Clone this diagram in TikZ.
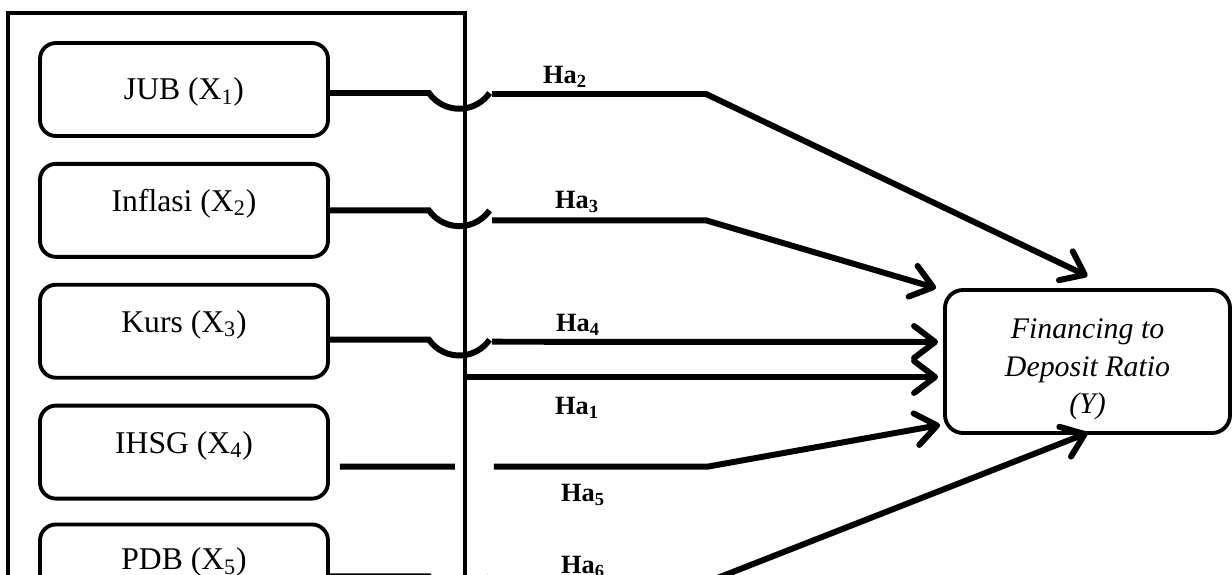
\documentclass[tikz,border=0pt]{standalone}
\usepackage{fontspec}
\setmainfont{Liberation Serif}
\usepackage{tikz}
\usetikzlibrary{arrows.meta,positioning,calc}

\tikzset{
    varbox/.style={draw, line width=2.2pt, rounded corners=0.32cm,
        minimum width=5.76cm, minimum height=1.86cm,
        font=\fontsize{18}{21}\selectfont, text height=0.5cm, text depth=0.46cm},
    hypo/.style={font=\fontsize{15}{17}\selectfont\bfseries},
    link/.style={line width=3.4pt},
}

\begin{document}
\begin{tikzpicture}[>={Straight Barb[round, length=0.42cm, width=0.64cm]}]
        \useasboundingbox (0, 0) rectangle (24.64, 11.48);
        \clip (0, 0) rectangle (24.64, 11.48);

        % Frame round the independent variables
        \draw[line width=1.8pt] (0.16, -1) |- (9.30, 11.22) -- (9.30, -1);
        \coordinate (frameE) at (9.30, 3.94);

        % Independent variables
        \node[varbox, text depth=0.08cm] (jub) at (3.68, 9.69) {JUB (X\textsubscript{1})};
        \node[varbox, below=0.48cm of jub] (inflasi) {Inflasi (X\textsubscript{2})};
        \node[varbox, below=0.48cm of inflasi] (kurs) {Kurs (X\textsubscript{3})};
        \node[varbox, below=0.48cm of kurs] (ihsg) {IHSG (X\textsubscript{4})};
        \node[varbox, below=0.44cm of ihsg, text depth=0.56cm] (pdb) {PDB (X\textsubscript{5})};

        % Dependent variable
        \node[draw, line width=2.2pt, rounded corners=0.36cm, minimum width=5.70cm, minimum height=2.86cm,
            label={[font=\fontsize{17}{21.4}\selectfont\itshape, align=center, yshift=-0.16cm]center:Financing to\\Deposit Ratio\\(Y)}]
            (fdr) at (21.75, 4.25) {};

        % Ha2: JUB
        \draw[link, ->] ([yshift=-0.07cm]jub.east) -- ++(1.98, 0)
            arc[start angle=215, end angle=325, radius=0.74cm] ++(0.05, -0.02) -- ++(4.28, 0)
            -- ([yshift=0.24cm]fdr.north);
        \node[hypo] (ha2) at (11.30, 9.94) {Ha\textsubscript{2}};

        % Ha3: Inflasi
        \draw[link, ->] (inflasi.east) -- ++(1.98, 0)
            arc[start angle=215, end angle=325, radius=0.74cm] ++(0.05, -0.2) -- ++(4.28, 0)
            -- ([xshift=-0.14cm]fdr.north west);
        \node[hypo] (ha3) at (11.54, 7.44) {Ha\textsubscript{3}};

        % Ha4: Kurs
        \draw[link, ->] ([yshift=-0.17cm]kurs.east) -- ++(1.98, 0)
            arc[start angle=215, end angle=325, radius=0.74cm] ++(0.05, -0.04)
            -- ([shift={(-0.1,0.39)}]fdr.west);
        \node[hypo] (ha4) at (11.56, 4.98) {Ha\textsubscript{4}};

        % Ha1: all variables together
        \draw[link, ->] (frameE) -- ([shift={(-0.1,-0.31)}]fdr.west);
        \node[hypo] (ha1) at (11.54, 3.32) {Ha\textsubscript{1}};

        % Ha5: IHSG
        \draw[link, ->] ([shift={(0.2,-0.29)}]ihsg.east) -- ++(2.3, 0) ++(0.78, 0) -- ++(4.28, 0)
            -- ([shift={(-0.06,0.2)}]fdr.south west);
        \node[hypo] (ha5) at (11.66, 1.58) {Ha\textsubscript{5}};

        % Ha6: PDB
        \draw[link, ->] ([yshift=-0.11cm]pdb.east) -- ++(1.98, 0)
            arc[start angle=215, end angle=325, radius=0.74cm] ++(0.05, -0.12) -- ++(4.28, 0)
            -- ([yshift=0.04cm]fdr.south);
        \node[hypo] (ha6) at (11.66, 0.14) {Ha\textsubscript{6}};
\end{tikzpicture}
\end{document}
